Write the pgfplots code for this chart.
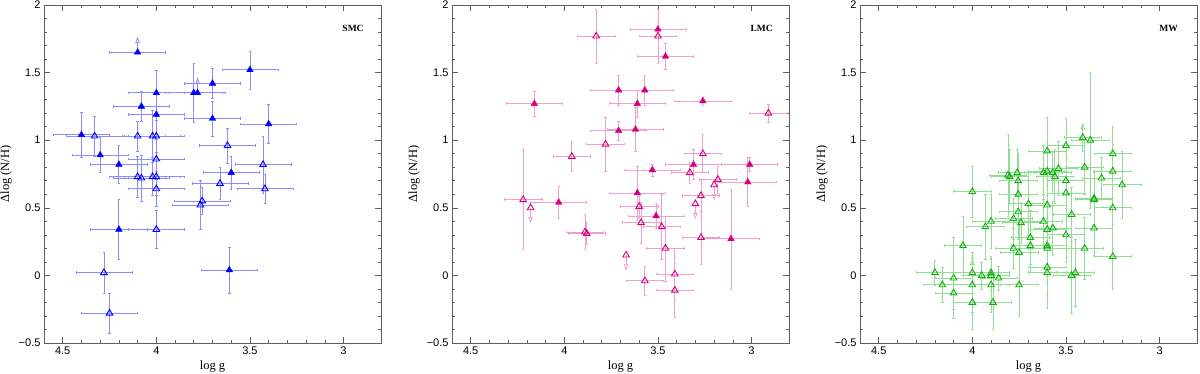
\documentclass[border=0pt]{standalone}
\usepackage{fontspec}
\setmainfont{Liberation Serif}
\setsansfont{Liberation Sans}
\usepackage{pgfplots}
\pgfplotsset{compat=1.18}
\usetikzlibrary{arrows.meta}

\definecolor{smc}{HTML}{0000FF}
\definecolor{smcerr}{HTML}{8C8CFF}
\definecolor{lmc}{HTML}{D4007F}
\definecolor{lmcerr}{HTML}{F0A0CF}
\definecolor{mw}{HTML}{10B010}
\definecolor{mwerr}{HTML}{90DE90}
\definecolor{frame}{HTML}{606060}

\pgfplotsset{
  panel/.style={
    scale only axis, width=337pt, height=338pt,
    x dir=reverse, xmin=2.8, xmax=4.6, ymin=-0.5, ymax=2,
    xtick={3,3.5,4,4.5}, xticklabels={3,3.5,4,4.5},
    ytick={-0.5,0,0.5,1,1.5,2}, yticklabels={−0.5,0,0.5,1,1.5,2},
    minor x tick num=4, minor y tick num=4,
    tick align=inside, major tick length=6pt, minor tick length=3pt,
    axis line style={frame, line width=0.8pt},
    every tick/.style={frame, line width=0.6pt},
    tick label style={font=\sffamily\fontsize{11}{13}\selectfont},
    label style={font=\fontsize{12.5}{14}\selectfont},
    xlabel={log g}, ylabel={Δlog (N/H)},
  },
  errs/.style={only marks, mark size=3.8pt,
    error bars/x dir=both, error bars/x explicit,
    error bars/y dir=both, error bars/y explicit,
    error bars/error bar style={#1, line width=0.8pt},
    error bars/error mark options={#1, mark size=1.2pt, line width=0.6pt, rotate=90}},
  limarrow/.style={#1, line width=0.8pt, -{Latex[open,length=7pt,width=5pt]}},
}

\begin{document}
\begin{tikzpicture}
\path[use as bounding box] (-44pt,-30pt) rectangle (1156pt,343pt);

% ---------------- SMC
\begin{axis}[panel, at={(0pt,0pt)}]
\addplot[limarrow=smcerr, quiver={u=0,v=0.12}] table {
x y
4.10 1.65
3.78 1.35
};
\addplot[errs=smcerr, mark=triangle, mark options={draw=smc, line width=0.9pt}] table[x error=ex, y error=ey] {
x y ex ey
4.33 1.03 0.15 0.15
4.10 1.03 0.15 0.11
4.02 1.03 0.15 0.19
4.00 1.03 0.15 0.12
4.00 0.86 0.15 0.15
4.10 0.73 0.15 0.15
4.08 0.72 0.15 0.17
4.02 0.73 0.15 0.14
4.00 0.73 0.15 0.14
4.00 0.64 0.15 0.13
3.62 0.96 0.15 0.13
3.43 0.82 0.15 0.21
3.66 0.68 0.15 0.12
3.42 0.64 0.15 0.11
3.755 0.55 0.15 0.10
3.765 0.52 0.15 0.18
4.00 0.34 0.15 0.14
4.28 0.02 0.15 0.15
4.25 -0.28 0.15 0.15
};
\addplot[errs=smcerr, mark=triangle*, mark options={draw=smc, fill=smc}] table[x error=ex, y error=ey] {
x y ex ey
3.50 1.52 0.15 0.14
3.70 1.42 0.15 0.11
3.80 1.35 0.15 0.22
4.00 1.35 0.15 0.17
4.00 1.19 0.15 0.15
4.08 1.25 0.15 0.11
3.70 1.16 0.15 0.13
3.40 1.12 0.15 0.145
4.40 1.04 0.15 0.17
4.30 0.89 0.15 0.13
4.20 0.82 0.15 0.14
3.60 0.76 0.15 0.12
4.20 0.34 0.15 0.22
3.61 0.04 0.15 0.17
4.10 1.65 0.15 0.00
3.78 1.35 0.15 0.00
};
\node[font=\bfseries\fontsize{9.5}{11}\selectfont] at (rel axis cs:0.917,0.93) {SMC};
\end{axis}

% ---------------- LMC
\begin{axis}[panel, at={(408pt,0pt)}]
\addplot[limarrow=lmcerr, quiver={u=0,v=-0.12}] table {
x y
4.18 0.50
3.67 0.15
3.30 0.53
3.20 0.67
};
\addplot[errs=lmcerr, mark=triangle, mark options={draw=lmc, line width=0.9pt}] table[x error=ex, y error=ey] {
x y ex ey
3.83 1.77 0.10 0.20
3.50 1.77 0.10 0.20
2.91 1.20 0.10 0.065
3.78 0.97 0.10 0.20
3.96 0.88 0.10 0.11
3.26 0.90 0.10 0.14
3.33 0.76 0.10 0.08
3.18 0.71 0.10 0.10
3.27 0.59 0.10 0.12
4.22 0.56 0.10 0.37
3.89 0.32 0.10 0.13
3.88 0.31 0.10 0.08
3.60 0.51 0.10 0.09
3.59 0.39 0.10 0.15
3.48 0.36 0.10 0.24
3.46 0.20 0.10 0.24
3.27 0.28 0.10 0.20
3.57 -0.04 0.10 0.11
3.41 0.01 0.10 0.19
3.41 -0.11 0.10 0.20
};
\addplot[only marks, mark=triangle, mark size=3.8pt, mark options={draw=lmc, line width=0.9pt}] table {
x y
4.18 0.50
3.67 0.15
3.30 0.53
3.20 0.67
};
\addplot[errs=lmcerr, mark=triangle*, mark options={draw=lmc, fill=lmc}] table[x error=ex, y error=ey] {
x y ex ey
3.50 1.82 0.15 0.05
3.46 1.62 0.15 0.095
4.16 1.27 0.15 0.09
3.71 1.37 0.15 0.11
3.57 1.37 0.15 0.11
3.61 1.27 0.15 0.10
3.26 1.29 0.15 0.03
3.71 1.07 0.15 0.07
3.62 1.08 0.15 0.16
3.53 0.78 0.15 0.045
3.31 0.82 0.15 0.11
3.01 0.82 0.15 0.05
3.02 0.69 0.15 0.18
3.61 0.61 0.15 0.20
4.03 0.54 0.15 0.12
3.51 0.44 0.15 0.09
3.11 0.27 0.15 0.37
};
\node[font=\bfseries\fontsize{9.5}{11}\selectfont] at (rel axis cs:0.919,0.93) {LMC};
\end{axis}

% ---------------- MW
\begin{axis}[panel, at={(816pt,0pt)}]
\addplot[limarrow=mwerr, quiver={u=0,v=0.11}] table {
x y
4.00 0.02
3.41 1.02
};
\addplot[errs=mwerr, mark=triangle, mark options={draw=mw, line width=0.9pt}] table[x error=ex, y error=ey] {
x y ex ey
4.20 0.02 0.10 0.09
4.16 -0.07 0.10 0.13
4.10 -0.02 0.10 0.30
4.10 -0.13 0.10 0.12
4.05 0.22 0.10 0.22
4.00 0.62 0.10 0.19
4.00 0.02 0.10 0.15
4.00 -0.07 0.10 0.20
4.00 -0.20 0.10 0.20
3.95 0.00 0.10 0.10
3.93 0.36 0.10 0.24
3.90 0.40 0.10 0.20
3.90 0.02 0.10 0.12
3.90 0.00 0.10 0.12
3.90 -0.07 0.10 0.20
3.89 -0.20 0.10 0.20
3.86 -0.02 0.10 0.09
3.81 0.74 0.10 0.30
3.80 0.73 0.10 0.20
3.78 0.20 0.10 0.15
3.78 0.42 0.10 0.15
3.76 0.76 0.10 0.17
3.755 0.70 0.10 0.20
3.755 0.60 0.10 0.15
3.755 0.47 0.10 0.20
3.75 0.17 0.10 0.25
3.75 -0.07 0.10 0.23
3.74 0.39 0.10 0.15
3.70 0.53 0.10 0.23
3.69 0.28 0.10 0.20
3.69 0.22 0.10 0.20
3.62 0.76 0.10 0.20
3.60 0.92 0.10 0.25
3.60 0.77 0.10 0.22
3.60 0.52 0.10 0.20
3.62 0.40 0.10 0.20
3.60 0.34 0.10 0.25
3.60 0.22 0.10 0.20
3.60 0.20 0.10 0.25
3.60 0.06 0.10 0.20
3.60 0.02 0.10 0.26
3.56 0.73 0.10 0.20
3.57 0.76 0.10 0.15
3.54 0.79 0.10 0.20
3.57 0.35 0.10 0.20
3.50 0.96 0.10 0.20
3.50 0.70 0.10 0.20
3.50 0.61 0.10 0.20
3.50 0.30 0.10 0.20
3.47 0.45 0.10 0.20
3.47 0.00 0.10 0.28
3.45 0.02 0.10 0.25
3.41 1.02 0.10 0.10
3.37 1.00 0.10 0.50
3.40 0.80 0.10 0.20
3.40 0.20 0.10 0.23
3.35 0.57 0.10 0.20
3.35 0.56 0.10 0.20
3.35 0.35 0.10 0.20
3.31 0.72 0.10 0.15
3.25 0.90 0.10 0.20
3.25 0.77 0.10 0.20
3.25 0.50 0.10 0.30
3.25 0.14 0.10 0.24
3.20 0.67 0.10 0.25
};
\node[font=\bfseries\fontsize{9.5}{11}\selectfont] at (rel axis cs:0.916,0.93) {MW};
\end{axis}
\end{tikzpicture}
\end{document}
